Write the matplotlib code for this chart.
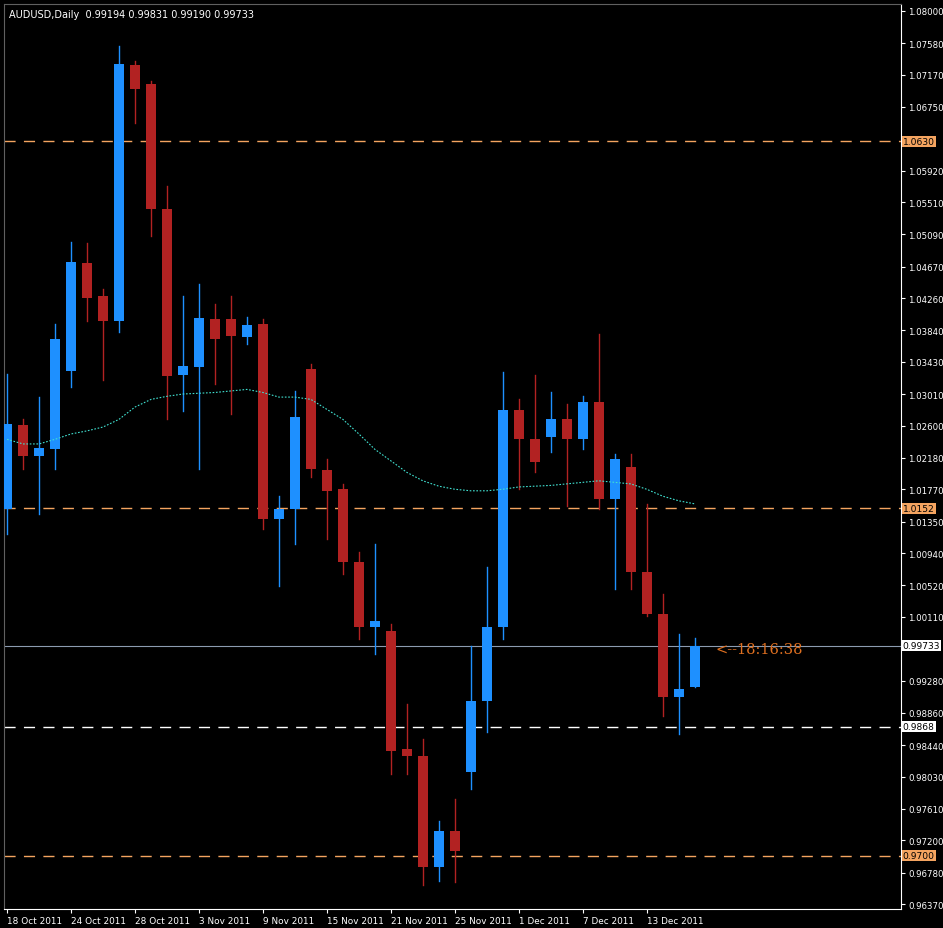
import matplotlib
matplotlib.use("Agg")
import matplotlib.pyplot as plt
from matplotlib.patches import Rectangle

# daily AUDUSD candles
opens = [1.0151, 1.0261, 1.0220, 1.0229, 1.0331, 1.0472, 1.0429, 1.0396, 1.0729, 1.0705,
         1.0542, 1.0326, 1.0336, 1.0399, 1.0399, 1.0375, 1.0392, 1.0138, 1.0151, 1.0334,
         1.0202, 1.0177, 1.0082, 0.9998, 0.9992, 0.9839, 0.9830, 0.9685, 0.9732, 0.9809,
         0.9901, 0.9998, 1.0280, 1.0242, 1.0245, 1.0268, 1.0242, 1.0291, 1.0164, 1.0206,
         1.0069, 1.0015, 0.9906, 0.99194]
closes = [1.0262, 1.0220, 1.0231, 1.0373, 1.0473, 1.0426, 1.0396, 1.0731, 1.0698, 1.0542,
          1.0324, 1.0337, 1.0400, 1.0373, 1.0377, 1.0391, 1.0138, 1.0151, 1.0271, 1.0203,
          1.0175, 1.0082, 0.9998, 1.0005, 0.9836, 0.9830, 0.9685, 0.9732, 0.9706, 0.9901,
          0.9998, 1.0280, 1.0242, 1.0212, 1.0268, 1.0242, 1.0291, 1.0164, 1.0216, 1.0069,
          1.0015, 0.9906, 0.9917, 0.99733]
highs = [1.0327, 1.0268, 1.0297, 1.0392, 1.0499, 1.0498, 1.0438, 1.0754, 1.0735, 1.0708,
         1.0572, 1.0429, 1.0444, 1.0418, 1.0429, 1.0401, 1.0399, 1.0168, 1.0305, 1.0340,
         1.0216, 1.0184, 1.0095, 1.0106, 1.0002, 0.9897, 0.9852, 0.9745, 0.9774, 0.9973,
         1.0076, 1.0330, 1.0294, 1.0326, 1.0304, 1.0288, 1.0298, 1.0379, 1.0223, 1.0223,
         1.0158, 1.0041, 0.9989, 0.99831]
lows = [1.0119, 1.0203, 1.0145, 1.0203, 1.0310, 1.0396, 1.0319, 1.0382, 1.0654, 1.0507,
        1.0268, 1.0279, 1.0203, 1.0314, 1.0275, 1.0366, 1.0125, 1.0051, 1.0106, 1.0193,
        1.0112, 1.0067, 0.9982, 0.9962, 0.9806, 0.9806, 0.9662, 0.9667, 0.9666, 0.9787,
        0.9861, 0.9982, 1.0177, 1.0199, 1.0226, 1.0155, 1.0229, 1.0151, 1.0047, 1.0047,
        1.0012, 0.9882, 0.9858, 0.99190]
ma = [1.0242, 1.0236, 1.0236, 1.0242, 1.0249, 1.0253, 1.0258, 1.0268, 1.0284, 1.0294,
      1.0298, 1.0301, 1.0302, 1.0303, 1.0305, 1.0307, 1.0303, 1.0297, 1.0297, 1.0294,
      1.0281, 1.0268, 1.0249, 1.0229, 1.0214, 1.0199, 1.0188, 1.0181, 1.0177, 1.0175,
      1.0175, 1.0177, 1.0180, 1.0181, 1.0182, 1.0184, 1.0186, 1.0188, 1.0186, 1.0184,
      1.0177, 1.0168, 1.0162, 1.0158]
date_labels = ["18 Oct 2011", "24 Oct 2011", "28 Oct 2011", "3 Nov 2011", "9 Nov 2011",
               "15 Nov 2011", "21 Nov 2011", "25 Nov 2011", "1 Dec 2011", "7 Dec 2011",
               "13 Dec 2011"]
price_ticks = [1.08000, 1.07580, 1.07170, 1.06750, 1.05920, 1.05510, 1.05090, 1.04670,
               1.04260, 1.03840, 1.03430, 1.03010, 1.02600, 1.02180, 1.01770, 1.01350,
               1.00940, 1.00520, 1.00110, 0.99280, 0.98860, 0.98440, 0.98030, 0.97610,
               0.97200, 0.96780, 0.96370]
levels = [1.0630, 1.0152, 0.9868, 0.9700]
level_colors = ["#f4a460", "#f4a460", "white", "#f4a460"]
last_price = 0.99733

BLUE = "#1e90ff"
RED = "#b22222"
ORANGE = "#f4a460"

fig = plt.figure(figsize=(9.43, 9.29), dpi=100, facecolor="black")
ax = fig.add_axes([4 / 943, 19 / 929, 897 / 943, 905 / 929], facecolor="black")
ax.set_xlim(-0.19, 55.9)
ax.set_ylim(0.96305, 1.08088)

w = 0.62
for i, (o, c, h, l) in enumerate(zip(opens, closes, highs, lows)):
    col = BLUE if c >= o else RED
    ax.plot([i, i], [l, h], color=col, lw=1, zorder=2)
    ax.add_patch(Rectangle((i - w / 2, min(o, c)), w, max(abs(c - o), 0.00005),
                           facecolor=col, edgecolor=col, lw=0, zorder=3))

ax.plot(range(len(ma)), ma, color="#40e0d0", lw=0.8, ls=(0, (1.5, 1.5)), zorder=4)

for lv, col in zip(levels, level_colors):
    ax.axhline(lv, color=col, lw=1, ls=(0, (8, 6)), zorder=1)
ax.axhline(last_price, color="#8c9bb0", lw=0.8, zorder=1)

ax.text(44.3, last_price - 0.0004, "<--18:16:38", color="#e07020", fontsize=10.5,
        family="DejaVu Serif", va="center")
ax.text(0.006, 0.995, "AUDUSD,Daily  0.99194 0.99831 0.99190 0.99733",
        transform=ax.transAxes, color="white", fontsize=7, va="top")

for s in ax.spines.values():
    s.set_color("white")
ax.spines["top"].set_color("#606060")
ax.spines["left"].set_color("#606060")

ax.yaxis.tick_right()
ax.set_yticks(price_ticks)
ax.set_yticklabels(["%.5f" % p for p in price_ticks])
ax.tick_params(axis="y", colors="white", labelsize=6.2, length=3, pad=2)
ax.set_xticks(range(0, 41, 4))
ax.set_xticklabels(date_labels, ha="left")
ax.tick_params(axis="x", colors="white", labelsize=6.4, length=3, pad=2)

# boxed level labels on the price scale
box_specs = [(1.0630, "1.0630", ORANGE), (1.0152, "1.0152", ORANGE),
             (last_price, "0.99733", "white"), (0.9868, "0.9868", "white"),
             (0.9700, "0.9700", ORANGE)]
for y, txt, fc in box_specs:
    ax.text(1.002, y, txt, transform=ax.get_yaxis_transform(), color="black", fontsize=6.6,
            va="center", ha="left",
            bbox=dict(boxstyle="square,pad=0.12", fc=fc, ec="none"), zorder=10, clip_on=False)

fig.savefig("out.png", dpi=100, facecolor="black")
